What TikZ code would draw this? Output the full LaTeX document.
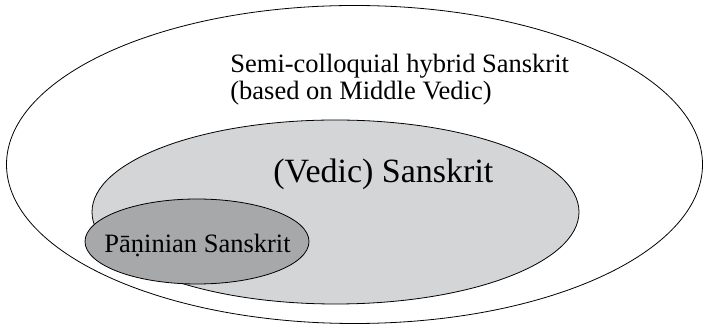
\documentclass[tikz,border=0pt]{standalone}
\usepackage{fontspec}
\setmainfont{Liberation Serif}
\definecolor{vedicgray}{RGB}{212,213,215}
\definecolor{paninigray}{RGB}{167,168,170}
\begin{document}
\begin{tikzpicture}[x=1pt,y=1pt,line width=0.8pt]
    \useasboundingbox (0,0) rectangle (704,326);

    % ellipses
    \draw (354.5,161.5) ellipse [x radius=348, y radius=159];
    \draw[fill=vedicgray] (335.5,114) ellipse [x radius=243.5, y radius=92];
    \draw[fill=paninigray] (197,84.5) ellipse [x radius=112, y radius=42.5];

    % labels
    \begin{scope}[inner sep=0pt,font=\fontsize{26.5}{27}\selectfont]
        \node[anchor=west,align=left] (hybrid) at (230,246.5) {Semi-colloquial hybrid Sanskrit\\(based on Middle Vedic)};
        \node[anchor=base west] (panini) at (104,73) {Pāṇinian Sanskrit};
    \end{scope}
    \node[inner sep=0pt,anchor=base west,font=\fontsize{34}{40}\selectfont] (vedic) at (273,143) {(Vedic) Sanskrit};
\end{tikzpicture}
\end{document}
